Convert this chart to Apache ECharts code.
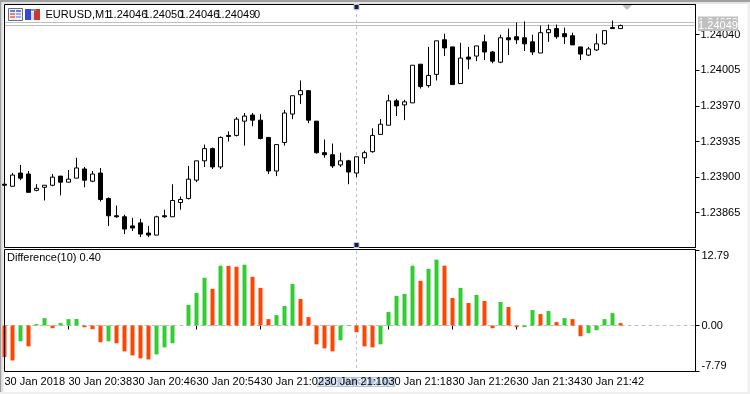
<!DOCTYPE html>
<html><head><meta charset="utf-8">
<style>html,body{margin:0;padding:0;background:#fff}#c{width:750px;height:394px}</style>
<script src="https://cdn.jsdelivr.net/npm/echarts@6/dist/echarts.min.js"></script>
</head><body><div id="c"></div>
<script>
// prices are in points (1 point = 0.00001)
const opens=[123893,123891,123904,123903,123887,123890,123892,123901,123895,123899,123908,123896,123904,123879,123862,123861,123852,123855,123845,123843,123862,123861,123875,123879,123897,123916,123928,123910,123941,123941,123955,123961,123956,123939,123906,123934,123962,123981,123985,123955,123924,123922,123912,123916,123904,123919,123925,123942,123951,123975,123971,123973,124011,123990,124001,124035,124028,123992,124018,124019,124033,124023,124013,124037,124038,124037,124033,124022,124042,124046,124041,124039,124028,124020,124025,124031,124047,124046];
const closes=[123892,123902,123899,123885,123889,123892,123900,123895,123898,123909,123897,123903,123878,123862,123861,123849,123850,123844,123843,123861,123861,123877,123878,123898,123916,123928,123910,123939,123940,123957,123960,123956,123938,123906,123932,123963,123980,123985,123956,123924,123922,123911,123916,123905,123920,123924,123941,123952,123975,123970,123974,124010,123989,124000,124034,124027,123991,124017,124016,124029,124023,124014,124037,124035,124035,124031,124023,124042,124045,124038,124038,124030,124021,124026,124031,124044,124046,124049];
const lows=[123892,123891,123897,123885,123886,123877,123891,123882,123895,123899,123890,123895,123876,123852,123860,123844,123847,123841,123841,123843,123860,123861,123868,123878,123895,123910,123908,123908,123935,123940,123931,123950,123937,123903,123901,123931,123957,123972,123953,123923,123919,123909,123910,123893,123900,123913,123924,123942,123951,123960,123956,123973,123987,123988,123995,124019,123991,123992,124006,124014,124015,124012,124012,124020,124031,124024,124020,124022,124033,124036,124031,124030,124015,124019,124024,124030,124046,124046];
const highs=[123893,123904,123912,123906,123893,123892,123903,123901,123907,123919,123910,123906,123909,123880,123872,123863,123860,123859,123852,123862,123868,123893,123881,123911,123916,123932,123929,123940,123945,123959,123963,123963,123962,123939,123932,123966,123980,123995,123985,123955,123937,123933,123924,123917,123920,123926,123948,123957,123981,123977,123976,124010,124011,124028,124034,124041,124028,124032,124028,124029,124040,124024,124040,124046,124052,124053,124040,124049,124050,124050,124047,124042,124028,124028,124041,124044,124054,124050];
const diff=[-5.35,-5.92,-2.67,-3.53,0.23,1.25,-0.46,0.40,1.08,1.10,-0.28,-0.63,-2.84,-2.67,-3.01,-4.38,-5.06,-5.57,-5.75,-4.89,-3.70,-3.01,0.02,3.47,5.52,8.08,6.20,10.13,10.10,9.95,10.30,8.25,6.37,1.08,1.76,3.30,7.05,4.49,1.42,-3.19,-3.87,-4.38,-2.50,-0.10,-1.14,-3.53,-3.70,-3.19,2.28,5.01,5.35,10.13,7.57,9.61,11.15,10.13,4.66,6.37,3.81,5.18,4.15,-0.46,3.98,3.13,-0.28,-0.27,2.62,1.93,2.45,0.57,1.25,1.08,-1.82,-1.31,-0.80,1.08,2.10,0.40];
const timeLabels=["30 Jan 2018","30 Jan 20:38","30 Jan 20:46","30 Jan 20:54","30 Jan 21:02","30 Jan 21:10","30 Jan 21:18","30 Jan 21:26","30 Jan 21:34","30 Jan 21:42"];
const priceTicks=[1.23865,1.23900,1.23935,1.23970,1.24005,1.24040];
const diffTicks=[-7.79,0,12.79];
const headerTexts=["EURUSD,M1","1.24046","1.24050","1.24046","1.24049","0"];
const bidPrice=1.24049, askPrice=1.24052;
const cursorIndex=44, cursorTime="2018.01.30 21:14";
const subTitle="Difference(10) 0.40";

const FONT='"Liberation Sans Narrow","Liberation Sans",sans-serif';
const slots=86;               // 8 px per bar
const cats=Array.from({length:slots+1},(_,i)=>i%8===0&&i/8<timeLabels.length?timeLabels[i/8]:"m"+i);
const showTick=i=>i%8===0&&i/8<timeLabels.length;
const UP="#32CD32",DOWN="#FF4500",GREY="#C0C0C0",CUR="#B0C4DE";

const chart=echarts.init(document.getElementById('c'),null,{renderer:'canvas'});
const candle=opens.map((o,i)=>[o/1e5,closes[i]/1e5,lows[i]/1e5,highs[i]/1e5]);
const bars=diff.map((v,i)=>({value:v,itemStyle:{color:(i>0&&v>diff[i-1])?UP:DOWN}}));
const L=4.5,W=688,RIGHT=695.5;

chart.setOption({
  animation:false,backgroundColor:'#fff',
  grid:[{left:L,top:4.5,width:W,height:243},{left:L,top:250,width:W,height:121.5}],
  xAxis:[
    {type:'category',gridIndex:0,data:cats,boundaryGap:false,axisLine:{show:false},axisTick:{show:false},axisLabel:{show:false},splitLine:{show:false}},
    {type:'category',gridIndex:1,data:cats,boundaryGap:false,
      axisLine:{show:false},
      axisTick:{show:true,length:4,interval:showTick,lineStyle:{color:'#000'}},
      axisLabel:{show:true,interval:showTick,align:'left',margin:5,color:'#000',fontFamily:FONT,fontSize:11,hideOverlap:false},
      splitLine:{show:false}}
  ],
  yAxis:[
    {type:'value',gridIndex:0,position:'right',offset:3,min:1.238308,max:1.240697,scale:true,
      axisLine:{show:true,lineStyle:{color:'#000'}},
      axisTick:{show:true,length:4,customValues:priceTicks,lineStyle:{color:'#000'}},
      axisLabel:{show:true,customValues:priceTicks,margin:5,color:'#000',fontFamily:FONT,fontSize:11,formatter:v=>v.toFixed(5),showMinLabel:true,showMaxLabel:true},
      splitLine:{show:false}},
    {type:'value',gridIndex:1,position:'right',offset:3,min:-7.79,max:12.79,
      axisLine:{show:true,lineStyle:{color:'#000'}},
      axisTick:{show:true,length:4,customValues:diffTicks,lineStyle:{color:'#000'}},
      axisLabel:{show:true,customValues:diffTicks,margin:6,color:'#000',fontFamily:FONT,fontSize:11,formatter:v=>v.toFixed(2),verticalAlignMinLabel:'bottom',verticalAlignMaxLabel:'top',showMinLabel:true,showMaxLabel:true},
      splitLine:{show:false}}
  ],
  series:[
    {type:'candlestick',xAxisIndex:0,yAxisIndex:0,data:candle,barWidth:5,clip:true,
      itemStyle:{color:'#fff',color0:'#000',borderColor:'#000',borderColor0:'#000',borderWidth:1}},
    {type:'bar',xAxisIndex:1,yAxisIndex:1,data:bars,barWidth:4,clip:true}
  ]
});

const px=v=>Math.round(v-0.5)+0.5;
const yMain=v=>px(chart.convertToPixel({yAxisIndex:0},v));
const yDiff=v=>px(chart.convertToPixel({yAxisIndex:1},v));
const cx=px(chart.convertToPixel({xAxisIndex:0},cursorIndex));
const bidY=yMain(bidPrice),askY=yMain(askPrice),zeroY=yDiff(0);
const line=(x1,y1,x2,y2,color,dash,z)=>({type:'line',z:z||1,silent:true,shape:{x1,y1,x2,y2},style:{stroke:color,lineWidth:1,lineDash:dash||null}});
const rect=(x,y,w,h,fill,stroke,z)=>({type:'rect',z:z||1,silent:true,shape:{x,y,width:w,height:h},style:{fill:fill||'transparent',stroke:stroke||null,lineWidth:1}});
const text=(x,y,s,color,z,align)=>({type:'text',z:z||5,silent:true,x,y,style:{text:s,fill:color||'#000',font:'11px '+FONT,textVerticalAlign:'middle',textAlign:align||'left'}});
const headerX=[45.5,107.5,143.5,179.5,215.5,254];

const g=[
  // window edges
  rect(0,0,750,2,'#A0A0A0',null,0), rect(0,2,750,2,'#E4E4E4',null,0),
  rect(0,0,1.5,394,'#A0A0A0',null,0), rect(1.5,2,2,392,'#E4E4E4',null,0),
  rect(0,392,750,2,'#EFEFEF',null,0), rect(747.5,2,2.5,392,'#EFEFEF',null,0),
  // price lines
  line(L,bidY,RIGHT,bidY,GREY), line(L,askY,RIGHT,askY,GREY),
  // zero line of the lower window
  line(L,zeroY,RIGHT,zeroY,GREY,[4,3]),
  // cursor
  line(cx,8,cx,241,CUR,[3,3]), line(cx,251,cx,371,CUR,[3,3]),
  rect(cx-2.5,4.5,5,5,'#1a1a40',CUR,8), rect(cx-2.5,242.5,5,5,'#1a1a40',CUR,8),
  rect(cx-39.5,377,78,10,CUR,null,-1),
  {...text(cx,382.5,cursorTime,'#fff',-1,'center')},
  // frames
  rect(L,L,RIGHT-L,243,null,'#000',6), rect(L,249.5,RIGHT-L,122,null,'#000',6),
  // price tags
  rect(698,16.5,40,11,GREY,null,3), text(718,askY,(askPrice).toFixed(5),'#fff',3,'center'),
  rect(698,19.5,40,11.5,GREY,null,4), text(718,bidY,(bidPrice).toFixed(5),'#fff',4,'center'),
  // shift marker
  {type:'polygon',z:7,silent:true,shape:{points:[[622,5],[632,5],[627,10]]},style:{fill:GREY}},
  // toolbar icons
  rect(8.5,8.5,14,12,'#F0F0FA','#6C6C78',7),
  rect(10,10,5,2,'#6C7CD8',null,8),rect(16,10,5,2,'#6C7CD8',null,8),
  rect(10,13,5,2,'#F08070',null,8),rect(16,13,5,2,'#9CB0F0',null,8),
  rect(10,16,5,2,'#F08070',null,8),rect(16,16,5,2,'#9CB0F0',null,8),
  rect(25,9,6,11,'#3448D8',null,7), rect(34,9,6,11,'#C83A30',null,7),
  rect(31,12,3,8,'#D8D8D8',null,7), rect(31,9,5,2,'#8090A0',null,7),
  text(7,258,subTitle,'#000',8)
];
headerTexts.forEach((s,i)=>g.push(text(headerX[i],14.5,s,'#000',8)));
chart.setOption({graphic:{elements:g}});
</script></body></html>
